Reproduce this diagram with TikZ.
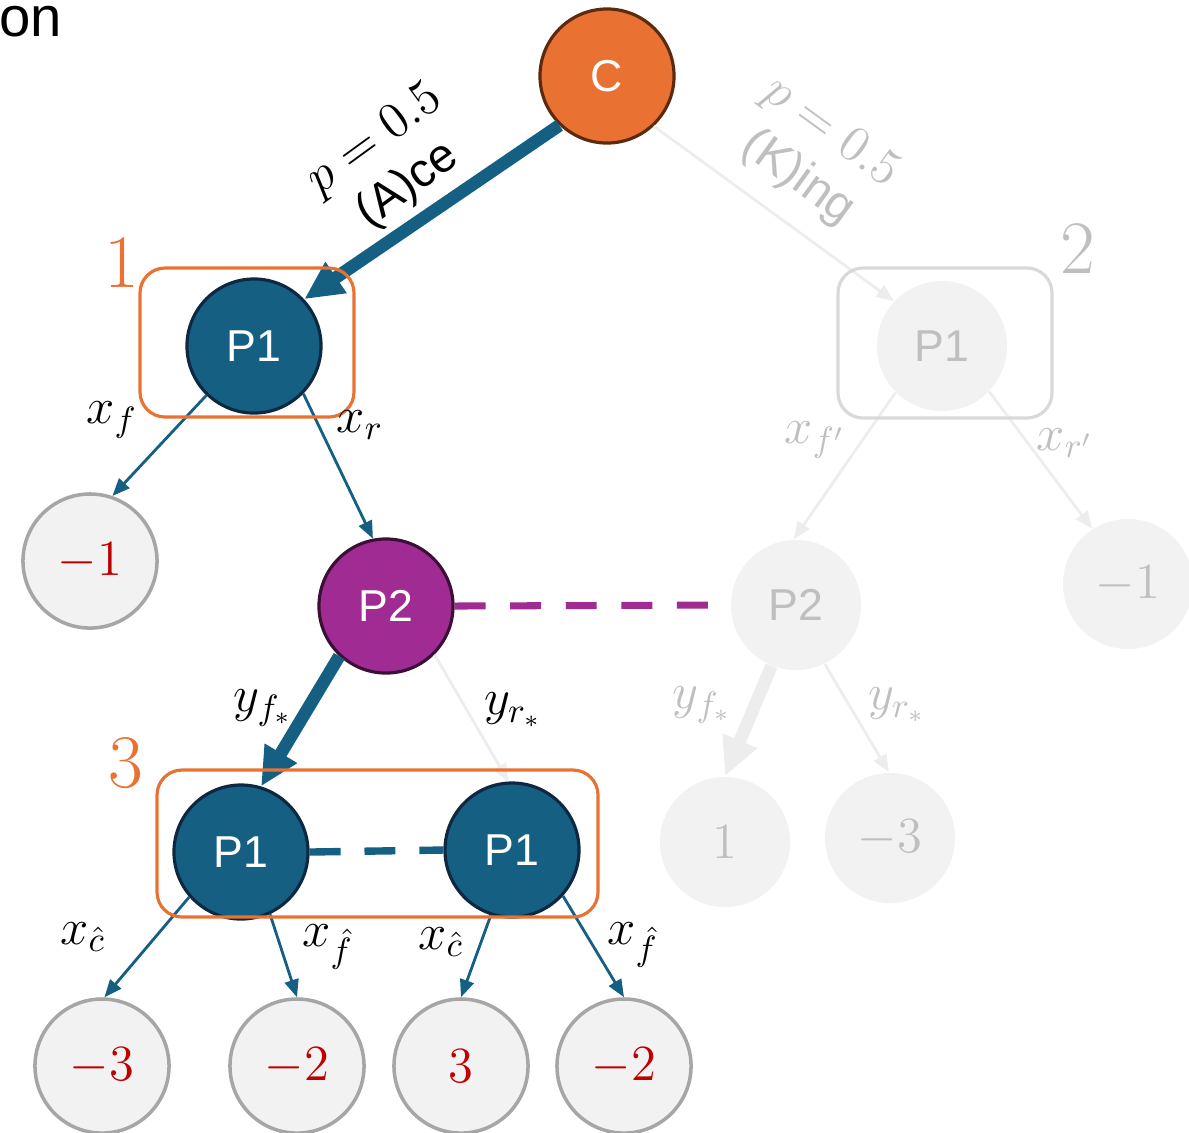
\documentclass[tikz,border=0pt]{standalone}
\usepackage{fontspec}
\setsansfont{Liberation Sans}
\usetikzlibrary{arrows.meta}

\definecolor{accorange}{HTML}{E97132}
\definecolor{accteal}{HTML}{156082}
\definecolor{accpurple}{HTML}{A02B93}
\definecolor{darknavy}{HTML}{0E2841}
\definecolor{darkbrown}{HTML}{5C2A0E}
\definecolor{darkplum}{HTML}{3B1036}
\definecolor{termfill}{HTML}{F2F2F2}
\definecolor{termline}{HTML}{A6A6A6}
\definecolor{payred}{HTML}{C00000}
\definecolor{ghosttext}{HTML}{BFBFBF}
\definecolor{ghostline}{HTML}{EDEDED}
\definecolor{ghostbox}{HTML}{D9D9D9}

\newcommand{\probtext}[1]{{\fontsize{15.5}{17}\selectfont$#1$}}

\tikzset{
  decision/.style={circle, minimum size=1.34cm, inner sep=0pt, line width=0.9pt, text=white, font=\sffamily\fontsize{12.7}{15}\selectfont},
  chance/.style={decision, fill=accorange, draw=darkbrown},
  player1/.style={decision, fill=accteal, draw=darknavy},
  player2/.style={decision, fill=accpurple, draw=darkplum},
  ghost/.style={circle, minimum size=1.3cm, inner sep=0pt, fill=termfill, text=ghosttext, font=\sffamily\fontsize{12.7}{15}\selectfont},
  payoff/.style={circle, minimum size=1.34cm, inner sep=0pt, fill=termfill, draw=termline, line width=1pt, text=payred, font=\fontsize{15.5}{18}\selectfont},
  ghostpayoff/.style={ghost, font=\fontsize{14.5}{17}\selectfont},
  move/.style={accteal, line width=0.8pt, -{Triangle[length=5pt,width=4pt]}},
  bigmove/.style={accteal, line width=3.6pt, -{Triangle[length=11pt,width=10pt]}},
  ghostmove/.style={ghostline, line width=0.8pt, -{Triangle[length=5pt,width=4pt]}},
  ghostbigmove/.style={ghostline, line width=3.6pt, -{Triangle[length=11pt,width=10pt]}},
  infoset/.style={accorange, line width=0.9pt, rounded corners=0.25cm},
  ghostset/.style={ghostbox, line width=0.9pt, rounded corners=0.25cm},
  lbl/.style={inner sep=0pt, font=\fontsize{14}{16}\selectfont},
  setnum/.style={inner sep=0pt, font=\fontsize{21.5}{24}\selectfont},
  prob/.style={inner sep=0pt, align=center, font=\sffamily\fontsize{13.5}{16}\selectfont}
}

\begin{document}
\begin{tikzpicture}[x=0.01cm, y=-0.01cm]
\useasboundingbox (0,0) rectangle (1189,1132);

\node[anchor=base west, inner sep=0pt, font=\sffamily\fontsize{16}{19}\selectfont] (cut) at (-1,36) {on};

% tree nodes
\node[chance] (c) at (607,76) {C};
\node[player1] (p1a) at (254,346) {P1};
\node[ghost] (gp1) at (942,346) {P1};
\node[payoff] (t1) at (90,561) {$-1$};
\node[player2] (p2) at (386,606) {P2};
\node[ghost] (gp2) at (796,605) {P2};
\node[ghostpayoff] (gt1) at (1128,584) {$-1$};
\node[ghostpayoff] (gt2) at (725,842) {$1$};
\node[ghostpayoff] (gt3) at (890,838) {$-3$};
\node[player1] (p1b) at (241,852) {P1};
\node[player1] (p1c) at (512,850) {P1};
\node[payoff] (t2) at (102,1066) {$-3$};
\node[payoff] (t3) at (297,1066) {$-2$};
\node[payoff] (t4) at (461,1066) {$3$};
\node[payoff] (t5) at (624,1066) {$-2$};

% moves
\draw[bigmove] (c.226) -- (p1a.43);
\draw[ghostmove] (c.313) -- (gp1.137);
\draw[move] (p1a.226) -- (t1.71);
\draw[move] (p1a.316) -- (p2.101);
\draw[ghostmove] (gp1.225) -- (gp2.92);
\draw[ghostmove] (gp1.316) -- (gt1.123);
\draw[bigmove] (p2.227) -- (p1b.73);
\draw[ghostmove] (p2.315) -- (p1c.93);
\draw[ghostbigmove] (gp2.248) -- (gt2.90);
\draw[ghostmove] (gp2.296) -- (gt3.91);
\draw[move] (p1b.221) -- (t2.88);
\draw[move] (p1b.295) -- (t3.90);
\draw[move] (p1c.252) -- (t4.90);
\draw[move] (p1c.318) -- (t5.90);

\draw[accpurple, line width=2pt, dash pattern=on 8.8pt off 7pt] (p2.east) -- (gp2.west);
\draw[accteal, line width=2.1pt, dash pattern=on 8.8pt off 6.8pt] (p1b.east) -- (p1c.west);

% information sets
\draw[infoset] (140,268) rectangle (354,417);
\draw[ghostset] (838,268) rectangle (1052,418);
\draw[infoset] (157,770) rectangle (598,917);
\node[setnum, text=accorange] (s1) at (122,262) {1};
\node[setnum, text=ghosttext] (s2) at (1078,248) {2};
\node[setnum, text=accorange] (s3) at (126,763) {3};

% labels
\node[prob, rotate=36] (pa) at (392,163) {\probtext{p = 0.5}\\(A)ce};
\node[prob, rotate=-36, text=ghosttext] (pk) at (814,156) {\probtext{p = 0.5}\\(K)ing};
\node[lbl] (lxf) at (112,420) {$x_f$};
\node[lbl] (lxr) at (360,425) {$x_r$};
\node[lbl, text=ghosttext] (lxf2) at (815,440) {$x_{f'}$};
\node[lbl, text=ghosttext] (lxr2) at (1065,443) {$x_{r'}$};
\node[lbl] (lyf) at (263,708) {$y_{f_*}$};
\node[lbl] (lyr) at (513,710) {$y_{r_*}$};
\node[lbl, text=ghosttext] (lyf2) at (702,705) {$y_{f_*}$};
\node[lbl, text=ghosttext] (lyr2) at (897,705) {$y_{r_*}$};
\node[lbl] (lxc1) at (83,937) {$x_{\hat c}$};
\node[lbl] (lxh1) at (328,947) {$x_{\hat f}$};
\node[lbl] (lxc2) at (441,942) {$x_{\hat c}$};
\node[lbl] (lxh2) at (633,945) {$x_{\hat f}$};
\end{tikzpicture}
\end{document}
